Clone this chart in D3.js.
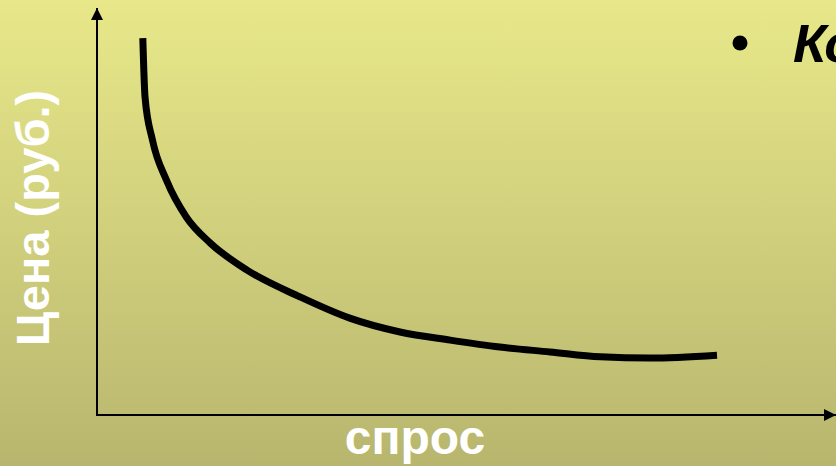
<!DOCTYPE html>
<html><head><meta charset="utf-8">
<script src="https://cdn.jsdelivr.net/npm/d3@7"></script>
<style>html,body{margin:0;padding:0;overflow:hidden;}svg{display:block;}</style>
</head><body>
<script>
const quantity = [6.2, 6.5, 7.5, 9.4, 12.1, 15.3, 20.3, 27.5, 34.2, 41.0, 47.8, 54.5, 61.3, 68.1, 74.8, 83.9];
const price    = [92.6, 78.1, 67.6, 57.7, 48.6, 42.3, 35.6, 29.0, 23.8, 20.4, 18.4, 16.7, 15.5, 14.3, 14.0, 14.7];
const yLabel = "Цена (руб.)";
const xLabel = "спрос";
const bulletText = "Ко";

const W = 836, H = 466;
const svg = d3.select("body").append("svg").attr("width", W).attr("height", H);
const defs = svg.append("defs");
const g = defs.append("linearGradient").attr("id","bg").attr("x1",0).attr("y1",0).attr("x2",0).attr("y2",1);
g.append("stop").attr("offset","0%").attr("stop-color","#e8e88a");
g.append("stop").attr("offset","100%").attr("stop-color","#b8b66e");
svg.append("rect").attr("width",W).attr("height",H).attr("fill","url(#bg)");

const x = d3.scaleLinear().domain([0,100]).range([97, 836]);
const y = d3.scaleLinear().domain([0,100]).range([415, 8]);

const mk = defs.append("marker").attr("id","arr").attr("viewBox","0 0 10 10")
  .attr("refX",10).attr("refY",5).attr("markerWidth",6).attr("markerHeight",6)
  .attr("markerUnits","strokeWidth").attr("orient","auto");
mk.append("path").attr("d","M0,0 L10,5 L0,10 Z").attr("fill","#000");

svg.append("line").attr("x1",x(0)).attr("y1",y(0)+1).attr("x2",x(0)).attr("y2",y(100))
  .attr("stroke","#000").attr("stroke-width",2).attr("marker-end","url(#arr)");
svg.append("line").attr("x1",x(0)-1).attr("y1",y(0)).attr("x2",x(100)).attr("y2",y(0))
  .attr("stroke","#000").attr("stroke-width",2).attr("marker-end","url(#arr)");

const pts = quantity.map((q,i)=>[q, price[i]]);
const line = d3.line().x(d=>x(d[0])).y(d=>y(d[1])).curve(d3.curveMonotoneX);
svg.append("path").attr("d", line(pts)).attr("fill","none").attr("stroke","#000")
  .attr("stroke-width",7).attr("stroke-linecap","butt");

svg.append("text").attr("transform","translate(49,218) rotate(-90)")
  .attr("text-anchor","middle").attr("font-family","Liberation Sans, Arial, sans-serif")
  .attr("font-weight","bold").attr("font-size",47).attr("fill","#fff").text(yLabel);
svg.append("text").attr("x",415).attr("y",454)
  .attr("text-anchor","middle").attr("font-family","Liberation Sans, Arial, sans-serif")
  .attr("font-weight","bold").attr("font-size",48).attr("fill","#fff").text(xLabel);

svg.append("circle").attr("cx",740).attr("cy",43).attr("r",7.5).attr("fill","#000");
svg.append("text").attr("x",793).attr("y",62)
  .attr("font-family","Liberation Sans, Arial, sans-serif").attr("font-style","italic")
  .attr("font-weight","bold").attr("font-size",54).attr("fill","#000").text(bulletText);
</script>
</body></html>
